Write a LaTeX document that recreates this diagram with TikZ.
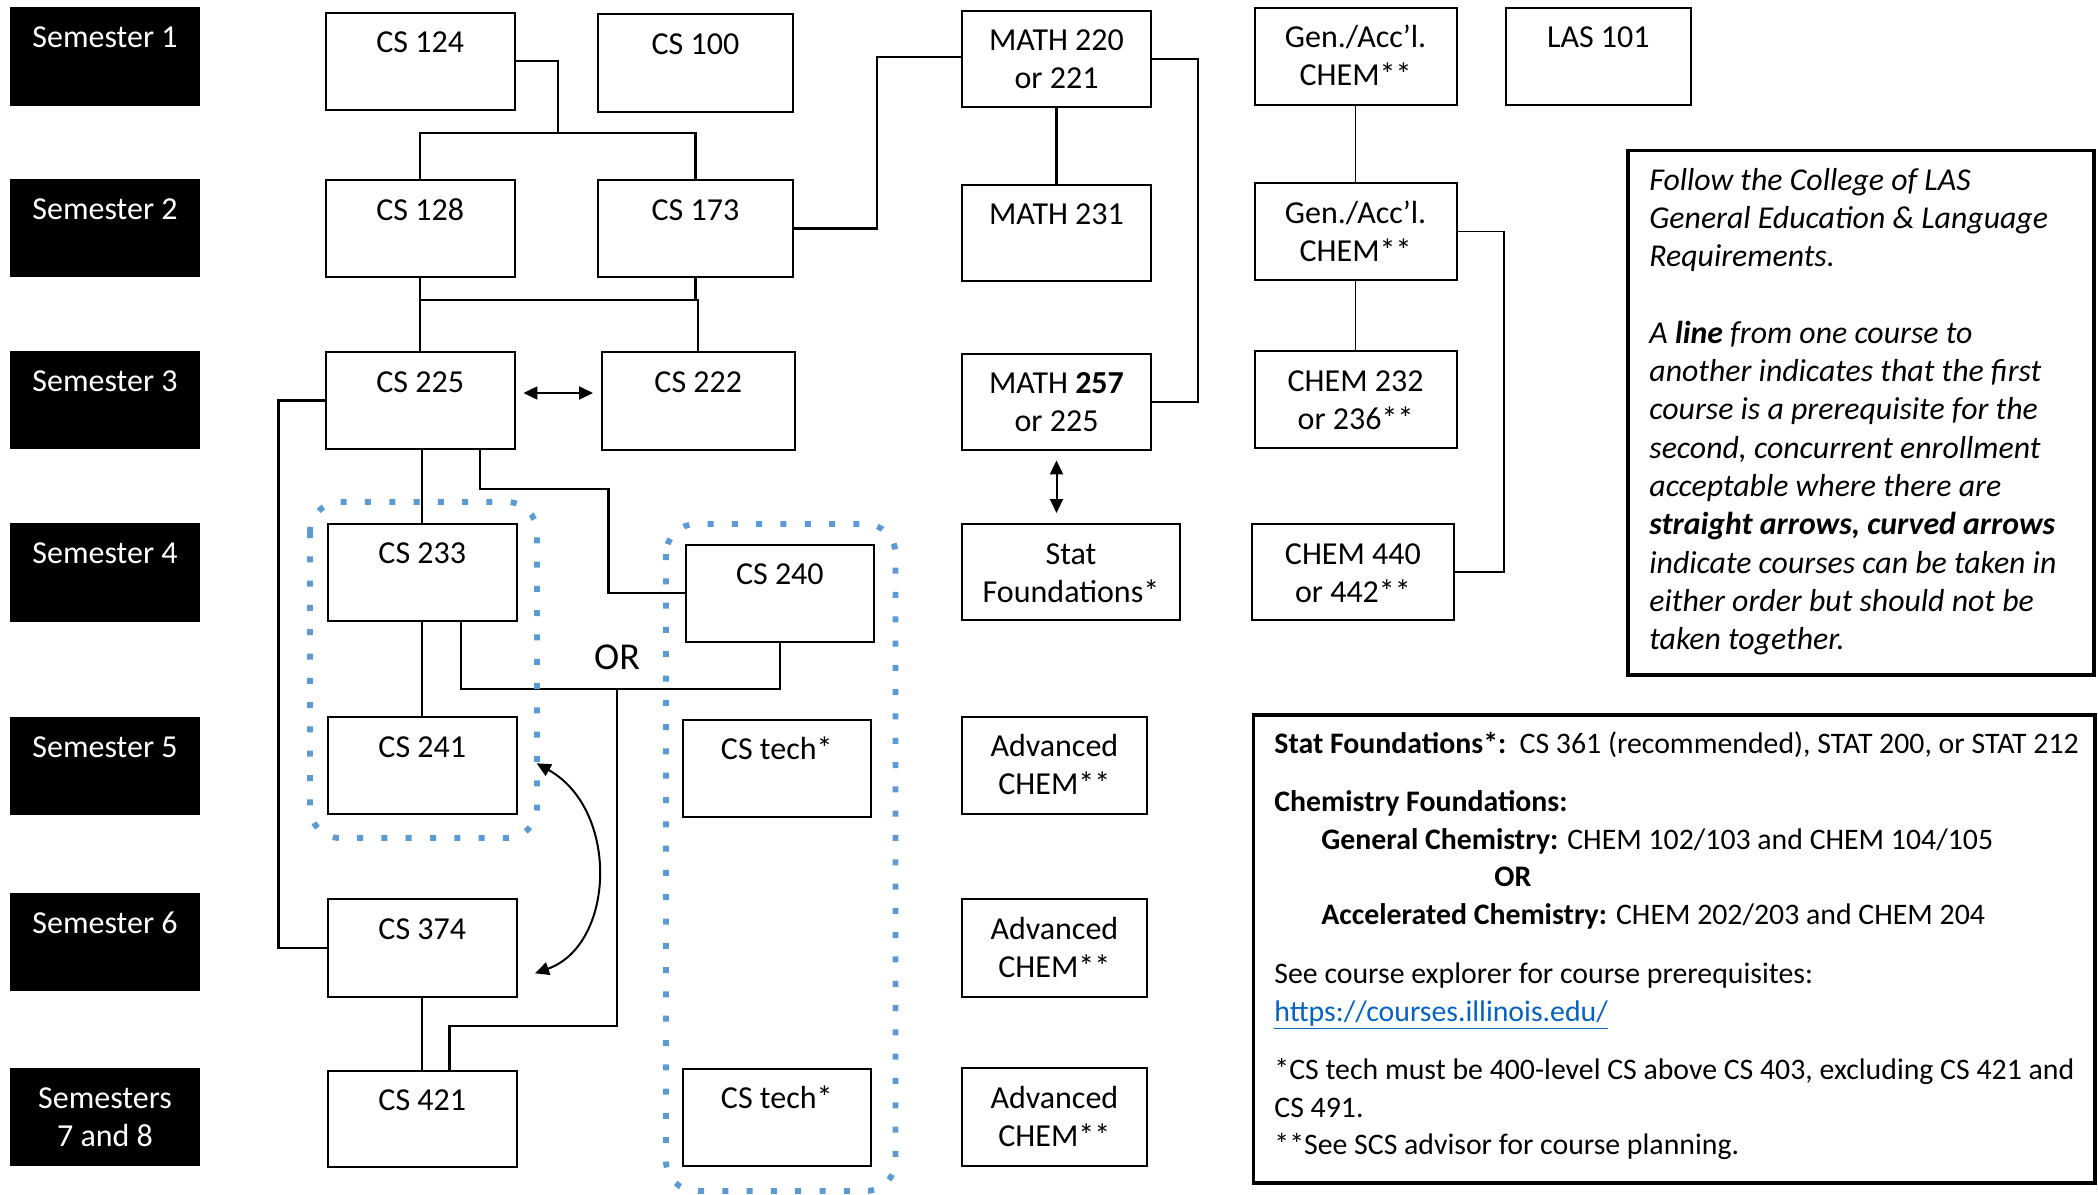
\documentclass[tikz,border=0pt]{standalone}
\usepackage{fontspec}
\setmainfont{Carlito}
\usetikzlibrary{arrows.meta,calc}
\definecolor{dotblue}{HTML}{5B9BD5}
\definecolor{linkblue}{HTML}{0563C1}
\newcommand\twol[2]{\begin{tabular}[t]{@{}c@{}}#1\\#2\end{tabular}}
\newcommand\crsbox[6]{%
  \node[cbx, minimum width={(#4-#2)*0.5pt}, minimum height={(#5-#3)*0.5pt}] (#1) at ({(#2+#4)/2},{(#3+#5)/2}) {};
  \node[lab] (#1-t) at ({(#2+#4)/2},{#3+40}) {#6};}
\newcommand\semcell[6]{%
  \node[semb, minimum width={(#4-#2)*0.5pt}, minimum height={(#5-#3)*0.5pt}] (#1) at ({(#2+#4)/2},{(#3+#5)/2}) {};
  \node[lab, text=white] (#1-t) at ({(#2+#4)/2},{#3+40}) {#6};}
\begin{document}
\begin{tikzpicture}[x=0.5pt,y=-0.5pt,
  cbx/.style={draw=black,line width=1pt,inner sep=0pt,outer sep=0pt,fill=white},
  semb/.style={fill=black,draw=none,inner sep=0pt,outer sep=0pt},
  lab/.style={anchor=base,inner sep=0pt,font=\fontsize{16pt}{19pt}\selectfont},
  conn/.style={line width=1.1pt},
  thinl/.style={line width=0.55pt},
  tip/.tip={Triangle[length=7pt,width=6.5pt]},
  dbl/.style={line width=1pt,tip-tip},
  dotbox/.style={draw=dotblue,line width=2.9pt,dash pattern=on 3pt off 9.15pt,rounded corners=15pt},
  notebox/.style={draw=black,line width=1.7pt,inner sep=0pt,outer sep=0pt},
]
\useasboundingbox (0,0) rectangle (2098,1194);
\fill[white] (0,0) rectangle (2098,1194);

% semester labels
\semcell{s1}{10}{7}{200}{106}{Semester 1}
\semcell{s2}{10}{179}{200}{277}{Semester 2}
\semcell{s3}{10}{351}{200}{449}{Semester 3}
\semcell{s4}{10}{523}{200}{622}{Semester 4}
\semcell{s5}{10}{717}{200}{815}{Semester 5}
\semcell{s6}{10}{893}{200}{991}{Semester 6}
\semcell{s78}{10}{1068}{200}{1166}{\twol{Semesters}{7 and 8}}

% courses
\crsbox{cs124}{325.5}{12.7}{515}{110}{CS 124}
\crsbox{cs100}{598}{14.3}{793}{112}{CS 100}
\crsbox{cs128}{325.5}{180}{515}{277}{CS 128}
\crsbox{cs173}{598}{180}{793}{277}{CS 173}
\crsbox{cs225}{325.5}{352}{515}{449}{CS 225}
\crsbox{cs222}{601.6}{352}{795}{450}{CS 222}
\crsbox{cs233}{328}{523.7}{516.6}{621}{CS 233}
\crsbox{cs240}{686}{544.7}{873.7}{641.7}{CS 240}
\crsbox{cs241}{328}{717}{516.6}{814}{CS 241}
\crsbox{techa}{682.5}{719.7}{871}{816.7}{CS tech*}
\crsbox{cs374}{328}{899}{516.6}{996.7}{CS 374}
\crsbox{cs421}{328}{1070.7}{516.6}{1167}{CS 421}
\crsbox{techb}{682.5}{1068.7}{871}{1165.7}{CS tech*}
\crsbox{math220}{962}{10.7}{1151}{107}{\twol{MATH 220}{or 221}}
\crsbox{math231}{962}{184.5}{1151}{281.3}{MATH 231}
\crsbox{math257}{962}{353.6}{1151}{450.4}{\twol{MATH \textbf{257}}{or 225}}
\crsbox{stat}{962}{524}{1180}{620}{\twol{Stat}{Foundations*}}
\crsbox{adva}{961.7}{716.7}{1147}{814.4}{\twol{Advanced}{CHEM**}}
\crsbox{advb}{961.7}{899}{1147}{997}{\twol{Advanced}{CHEM**}}
\crsbox{advc}{961.7}{1068}{1147}{1166}{\twol{Advanced}{CHEM**}}
\crsbox{chema}{1254.5}{7.7}{1456.7}{104.5}{\twol{Gen./Acc’l.}{CHEM**}}
\crsbox{chemb}{1254.5}{183}{1456.7}{280}{\twol{Gen./Acc’l.}{CHEM**}}
\crsbox{chemc}{1254.5}{351}{1456.7}{448}{\twol{CHEM 232}{or 236**}}
\crsbox{chemd}{1251.8}{524}{1454}{620}{\twol{CHEM 440}{or 442**}}
\crsbox{las}{1506}{7.5}{1690.7}{105}{LAS 101}

% junction coordinates
\coordinate (j1) at (558,133);
\coordinate (j2) at (0,300);
\coordinate (b1) at (877,57);
\coordinate (j3) at (617,689);
\coordinate (j4) at (449.5,1026);
\coordinate (ya) at (0,393);

% connectors
\draw[conn] (cs124.east) -| (j1);
\draw[conn] (cs128.north) |- (j1) -| (cs173.north);
\draw[conn] (cs173.east) -| (b1) -- (b1 -| math220.west);
\draw[conn] (cs128.south) -- (cs225.north);
\draw[conn] (cs173.south) -- (cs173.south |- j2);
\draw[conn] (cs225.north |- j2) -- (cs222.north |- j2) -- (cs222.north);
\draw[dbl, shorten <=4.2pt, shorten >=4.3pt] (cs225.east |- ya) -- (cs222.west |- ya);
\draw[conn] (cs225.west) -| (278.4,675) |- (cs374.west);
\draw[conn] (cs233.north |- cs225.south) -- (cs233.north);
\draw[conn] ($(cs225.south east)+(-35,0)$) |- (608.5,489) |- (cs240.west);
\draw[conn] (cs233.south) -- (cs241.north);
\draw[conn] ($(cs233.south east)+(-55.6,0)$) |- (j3) -| (cs240.south);
\draw[conn] (j3) |- (j4) -- (j4 |- cs421.north);
\draw[conn] (cs374.south) -- (cs421.north);
\node[lab, font=\fontsize{19pt}{22pt}\selectfont] (or) at (617,669) {OR};
\coordinate (ca) at (536.7,763.3);
\coordinate (cb) at (535,973.3);
\draw[dbl] (ca) .. controls (620,810) and (615,945) .. (cb);

\draw[conn] (math220.south) -- (math231.north);
\draw[conn] (math220.east) -| (1198,200) |- (math257.east);
\draw[dbl, shorten <=5pt, shorten >=5.5pt] (math257.south) -- (math257.south |- stat.north);

\draw[thinl] (chema.south) -- (chemb.north);
\draw[thinl] (chemb.south) -- (chemc.north);
\draw[thinl] (chemb.east) -| (1504,400) |- (chemd.east);

% dotted groups
\draw[dotbox] (310,502) rectangle (537,838);
\draw[dotbox] (666,524) rectangle (895.5,1191);

% legend 1
\node[notebox, minimum width={(2094-1628)*0.5pt}, minimum height={(675-150.7)*0.5pt}] (notea) at ({(1628+2094)/2},{(150.7+675)/2}) {};
\node[anchor=base west, inner sep=0pt, font=\fontsize{15.9pt}{19.15pt}\selectfont\itshape] (noteatext) at (1649,190) {\begin{tabular}[t]{@{}l@{}}Follow the College of LAS\\
General Education \& Language\\
Requirements.\\
\\
A \textbf{line} from one course to\\
another indicates that the first\\
course is a prerequisite for the\\
second, concurrent enrollment\\
acceptable where there are\\
\textbf{straight arrows, curved arrows}\\
indicate courses can be taken in\\
either order but should not be\\
taken together.\end{tabular}};

% legend 2
\node[notebox, minimum width={(2095-1253.5)*0.5pt}, minimum height={(1183-715)*0.5pt}] (noteb) at ({(1253.5+2095)/2},{(715+1183)/2}) {};
\node[anchor=base west, inner sep=0pt, font=\fontsize{14.9pt}{18.75pt}\selectfont] (notebtext) at (1274,753) {\begin{tabular}[t]{@{}l@{}}\textbf{Stat Foundations*:}\ \ CS 361 (recommended), STAT 200, or STAT 212\\[10.5pt]
\textbf{Chemistry Foundations:}\\
\hspace{23.5pt}\textbf{General Chemistry:} CHEM 102/103 and CHEM 104/105\\
\hspace{110pt}\textbf{OR}\\
\hspace{23.5pt}\textbf{Accelerated Chemistry:} CHEM 202/203 and CHEM 204\\[11pt]
See course explorer for course prerequisites:\\
\textcolor{linkblue}{\underline{https://courses.illinois.edu/}}\\[10.5pt]
{}*CS tech must be 400-level CS above CS 403, excluding CS 421 and\\
CS 491.\\
{}**See SCS advisor for course planning.\end{tabular}};
\end{tikzpicture}
\end{document}
